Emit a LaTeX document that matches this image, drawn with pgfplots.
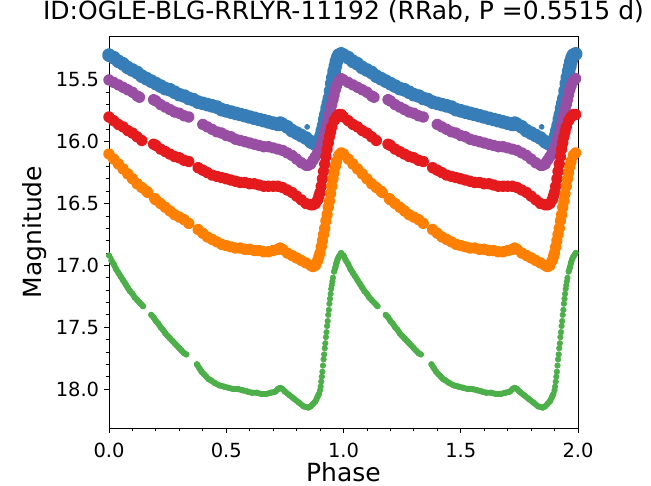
\documentclass[border=0pt]{standalone}
\usepackage{fontspec}
\setmainfont{DejaVu Sans}
\usepackage{pgfplots}
\usepackage{pgfplotstable}
\pgfplotsset{compat=1.18}
\definecolor{cB}{HTML}{377EB8}
\definecolor{cP}{HTML}{984EA3}
\definecolor{cR}{HTML}{E41A1C}
\definecolor{cO}{HTML}{FF7F00}
\definecolor{cG}{HTML}{4DAF4A}

\pgfplotstableread{
p m
0.00 15.30
0.02 15.32
0.04 15.35
0.06 15.37
0.08 15.40
0.10 15.42
0.12 15.44
0.14 15.47
0.16 15.49
0.18 15.51
0.20 15.53
0.22 15.55
0.24 15.57
0.26 15.58
0.28 15.60
0.30 15.62
0.32 15.63
0.34 15.65
0.36 15.66
0.38 15.68
0.40 15.69
0.42 15.70
0.44 15.71
0.46 15.72
0.48 15.74
0.50 15.75
0.52 15.76
0.54 15.77
0.56 15.78
0.58 15.79
0.60 15.80
0.62 15.81
0.64 15.82
0.66 15.83
0.68 15.84
0.70 15.85
0.72 15.86
0.73 15.85
0.74 15.86
0.76 15.88
0.78 15.91
0.80 15.93
0.82 15.95
0.84 15.97
0.86 16.00
0.87 16.01
0.88 16.02
0.89 16.02
0.895 16.01
0.90 15.98
0.905 15.95
0.91 15.91
0.915 15.87
0.92 15.82
0.925 15.78
0.93 15.73
0.935 15.69
0.94 15.65
0.945 15.59
0.95 15.53
0.955 15.48
0.96 15.43
0.965 15.39
0.97 15.35
0.975 15.32
0.98 15.30
0.99 15.29
}\blue

\pgfplotstableread{
p m
0.00 15.50
0.02 15.52
0.04 15.54
0.06 15.56
0.08 15.58
0.10 15.60
0.12 15.63
0.13 15.64
0.16 nan
0.19 15.66
0.20 15.67
0.22 15.70
0.24 15.72
0.26 15.74
0.28 15.76
0.30 15.77
0.32 15.79
0.34 15.80
0.37 nan
0.40 15.86
0.42 15.88
0.44 15.90
0.46 15.92
0.48 15.93
0.50 15.95
0.52 15.96
0.54 15.98
0.56 15.99
0.58 16.00
0.60 16.01
0.62 16.02
0.64 16.03
0.66 16.04
0.68 16.04
0.70 16.05
0.72 16.06
0.74 16.07
0.76 16.09
0.78 16.11
0.80 16.14
0.82 16.17
0.84 16.19
0.85 16.19
0.86 16.18
0.87 16.15
0.88 16.12
0.89 16.09
0.90 16.06
0.905 16.03
0.91 16.00
0.915 15.97
0.92 15.94
0.925 15.90
0.93 15.86
0.935 15.82
0.94 15.78
0.945 15.74
0.95 15.70
0.955 15.66
0.96 15.62
0.965 15.58
0.97 15.55
0.98 15.51
0.99 15.49
}\purple

\pgfplotstableread{
p m
0.00 15.80
0.02 15.83
0.04 15.86
0.06 15.88
0.08 15.91
0.10 15.93
0.12 15.96
0.14 15.99
0.165 nan
0.19 16.02
0.20 16.03
0.22 16.06
0.24 16.08
0.26 16.10
0.28 16.12
0.30 16.13
0.32 16.15
0.34 16.16
0.36 nan
0.38 16.21
0.40 16.23
0.42 16.25
0.44 16.27
0.46 16.28
0.48 16.29
0.50 16.30
0.52 16.31
0.54 16.32
0.56 16.33
0.58 16.33
0.60 16.34
0.62 16.34
0.64 16.35
0.66 16.36
0.68 16.36
0.70 16.36
0.72 16.36
0.74 16.37
0.76 16.39
0.78 16.41
0.80 16.44
0.82 16.47
0.84 16.50
0.86 16.51
0.87 16.51
0.88 16.50
0.89 16.47
0.895 16.44
0.90 16.41
0.905 16.36
0.91 16.30
0.915 16.24
0.92 16.18
0.925 16.12
0.93 16.06
0.935 16.01
0.94 15.96
0.945 15.92
0.95 15.88
0.96 15.83
0.97 15.80
0.98 15.78
0.99 15.78
}\red

\pgfplotstableread{
p m
0.00 16.10
0.02 16.14
0.04 16.18
0.06 16.22
0.08 16.26
0.10 16.30
0.12 16.34
0.14 16.37
0.16 16.40
0.165 16.41
0.18 nan
0.195 16.46
0.20 16.47
0.22 16.50
0.24 16.53
0.26 16.56
0.28 16.59
0.30 16.61
0.32 16.63
0.34 16.66
0.36 nan
0.38 16.71
0.40 16.74
0.42 16.77
0.44 16.79
0.46 16.81
0.48 16.83
0.50 16.84
0.52 16.85
0.54 16.86
0.56 16.86
0.58 16.87
0.60 16.87
0.62 16.88
0.64 16.88
0.66 16.89
0.68 16.89
0.70 16.88
0.72 16.87
0.73 16.86
0.74 16.87
0.76 16.90
0.78 16.92
0.80 16.94
0.82 16.96
0.84 16.98
0.86 17.00
0.87 17.01
0.88 17.00
0.89 16.96
0.895 16.93
0.90 16.90
0.905 16.85
0.91 16.80
0.915 16.75
0.92 16.70
0.925 16.64
0.93 16.59
0.935 16.53
0.94 16.48
0.945 16.42
0.95 16.36
0.955 16.30
0.96 16.25
0.965 16.20
0.97 16.16
0.98 16.11
0.99 16.09
}\orange

\pgfplotstableread{
p m
0.00 16.92
0.01 16.96
0.02 16.99
0.03 17.03
0.04 17.06
0.05 17.09
0.06 17.12
0.07 17.15
0.08 17.18
0.09 17.21
0.10 17.23
0.11 17.26
0.12 17.28
0.13 17.30
0.14 17.32
0.145 17.33
0.16 nan
0.18 17.40
0.19 17.42
0.20 17.45
0.21 17.47
0.22 17.50
0.23 17.52
0.24 17.55
0.25 17.57
0.26 17.59
0.27 17.61
0.28 17.63
0.29 17.65
0.30 17.67
0.31 17.69
0.32 17.71
0.33 17.72
0.35 nan
0.375 17.80
0.385 17.83
0.395 17.86
0.405 17.88
0.415 17.90
0.425 17.92
0.435 17.93
0.45 17.95
0.47 17.97
0.49 17.98
0.51 17.99
0.53 18.00
0.55 18.00
0.57 18.01
0.59 18.02
0.61 18.03
0.63 18.03
0.65 18.04
0.67 18.04
0.69 18.03
0.71 18.02
0.72 18.00
0.73 17.99
0.74 18.00
0.75 18.02
0.77 18.05
0.79 18.08
0.81 18.11
0.83 18.14
0.85 18.15
0.86 18.14
0.87 18.12
0.88 18.10
0.89 18.06
0.895 18.04
0.90 18.01
0.9025 17.98
0.905 17.94
0.9075 17.90
0.91 17.86
0.9125 17.81
0.915 17.76
0.9175 17.72
0.92 17.67
0.9225 17.63
0.925 17.58
0.9275 17.54
0.93 17.49
0.9325 17.45
0.935 17.40
0.9375 17.36
0.94 17.31
0.9425 17.27
0.945 17.23
0.9475 17.19
0.95 17.16
0.9525 17.13
0.955 17.10
0.96 17.05
0.965 17.02
0.97 16.98
0.975 16.95
0.98 16.93
0.99 16.90
}\green

\pgfplotsset{
  band/.style n args={3}{#1, line width=#2, line join=round, line cap=round, mark=*, mark size=#3, mark options={solid}},
  gline/.style={cG, line width=4.4pt, line join=round, line cap=round},
}

\begin{document}
\begin{tikzpicture}
\path[use as bounding box] (-81.75pt,-43.5pt) rectangle (406.5pt,321pt);
\begin{axis}[
  at={(0,0)}, anchor=south west,
  scale only axis, width=351.75pt, height=294pt,
  xmin=0, xmax=2, ymin=15.145, ymax=18.315, y dir=reverse,
  unbounded coords=jump,
  xtick={0,0.5,1,1.5,2}, ytick={15.5,16,16.5,17,17.5,18},
  minor x tick num=4, minor y tick num=4,
  tick align=outside, xtick pos=bottom, ytick pos=left,
  major tick length=3.6pt, minor tick length=2.1pt,
  every tick/.style={black, line width=0.6pt},
  axis line style={black, line width=0.6pt},
  /pgf/number format/.cd, fixed, fixed zerofill, precision=1, assume math mode=true,
  /pgfplots/.cd,
  tick label style={font=\fontsize{14.6}{17}\selectfont},
  xticklabel style={anchor=base, inner sep=0pt, yshift=-18.75pt},
  yticklabel style={anchor=east, inner sep=0pt, xshift=-3.6pt},
  title={ID:OGLE-BLG-RRLYR-11192 (RRab, P =0.5515 d)},
  title style={at={(axis description cs:0.5,1)}, anchor=base, inner sep=0pt, yshift=6.75pt, font=\fontsize{18.75}{22}\selectfont},
  xlabel={Phase},
  xlabel style={at={(axis description cs:0.5,0)}, anchor=base, inner sep=0pt, yshift=-39.75pt, font=\fontsize{18.75}{22}\selectfont},
  ylabel={Magnitude},
  ylabel style={at={(axis description cs:-0.14357,0.5)}, anchor=base, inner sep=0pt, font=\fontsize{18.75}{22}\selectfont},
]
\addplot[band={cB}{5.5pt}{2.5pt}] table[x=p, y=m]{\blue};
\addplot[band={cB}{5.5pt}{2.5pt}] table[x expr=\thisrow{p}+1, y=m]{\blue};
\addplot[only marks, mark=*, mark size=1.9pt, cB] coordinates {(0.845,15.88) (1.845,15.88)};
\addplot[band={cP}{4.3pt}{2.2pt}] table[x=p, y=m]{\purple};
\addplot[band={cP}{4.3pt}{2.2pt}] table[x expr=\thisrow{p}+1, y=m]{\purple};
\addplot[band={cR}{4.3pt}{2.2pt}] table[x=p, y=m]{\red};
\addplot[band={cR}{4.3pt}{2.2pt}] table[x expr=\thisrow{p}+1, y=m]{\red};
\addplot[band={cO}{4.3pt}{2.2pt}] table[x=p, y=m]{\orange};
\addplot[band={cO}{4.3pt}{2.2pt}] table[x expr=\thisrow{p}+1, y=m]{\orange};
\addplot[gline, restrict x to domain=0:0.897] table[x=p, y=m]{\green};
\addplot[gline, restrict x to domain=1:1.897] table[x expr=\thisrow{p}+1, y=m]{\green};
\addplot[gline, restrict x to domain=0.96:1] table[x=p, y=m]{\green};
\addplot[gline, restrict x to domain=1.96:2] table[x expr=\thisrow{p}+1, y=m]{\green};
\addplot[only marks, mark=*, mark size=2.1pt, cG] table[x=p, y=m]{\green};
\addplot[only marks, mark=*, mark size=2.1pt, cG] table[x expr=\thisrow{p}+1, y=m]{\green};
\end{axis}
\end{tikzpicture}
\end{document}
